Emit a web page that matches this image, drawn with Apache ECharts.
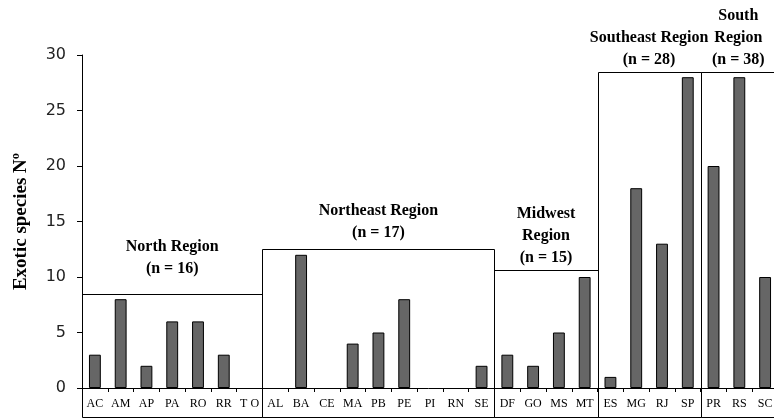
<!DOCTYPE html>
<html>
<head>
<meta charset="utf-8">
<script src="https://cdn.jsdelivr.net/npm/echarts@6/dist/echarts.min.js"></script>
<style>html,body{margin:0;padding:0;background:#fff;}#c{width:774px;height:419px;}</style>
</head>
<body>
<div id="c"></div>
<script>
// ---- data ----
const categories = ['AC','AM','AP','PA','RO','RR','T O','AL','BA','CE','MA','PB','PE','PI','RN','SE','DF','GO','MS','MT','ES','MG','RJ','SP','PR','RS','SC'];
const values = [3,8,2,6,6,3,0, 0,12,0,4,5,8,0,0,2, 3,2,5,10, 1,18,13,28, 20,28,10];
const yTicks = [0,5,10,15,20,25,30];
const regionLabels = ['North Region\n(n = 16)','Northeast Region\n(n = 17)','Midwest\nRegion\n(n = 15)','Southeast Region\n(n = 28)','South\nRegion\n(n = 38)'];
const regionStart = [0,7,16,20,24];
const regionEnd = [7,16,20,24,27];
const regionTop = [8.45,12.5,10.6,28.5,28.5];

// ---- style ----
const labelGaps = [25,16,12,12,12];
const regionData = regionStart.map((s,i)=>[s, regionEnd[i], regionTop[i], i]);
const barData = values.map(v => ({value:v, itemStyle: v===0 ? {borderWidth:0, color:'transparent'} : {}}));

const chart = echarts.init(document.getElementById('c'));
chart.setOption({
  animation:false,
  grid:{left:82, width:696, top:55, bottom:31, containLabel:false, outerBoundsMode:'none'},
  xAxis:[{
    type:'category', data:categories,
    axisLine:{lineStyle:{color:'#000',width:1}},
    axisTick:{show:true, length:4, lineStyle:{color:'#000'}},
    axisLabel:{interval:0, margin:10, color:'#000', fontFamily:'Liberation Serif', fontSize:12}
  },{
    type:'value', min:0, max:27, show:false
  }],
  yAxis:{
    type:'value', min:0, max:30, interval:5,
    name:'Exotic species Nº', nameLocation:'middle', nameGap:51, nameRotate:90,
    nameTextStyle:{fontFamily:'Liberation Serif', fontSize:19, fontWeight:'bold', color:'#000'},
    axisLine:{show:true, lineStyle:{color:'#000',width:1}},
    axisTick:{show:true, length:5, lineStyle:{color:'#000'}},
    axisLabel:{margin:16, color:'#222', fontFamily:'DejaVu Sans', fontSize:16,
      formatter:v=>yTicks.includes(v)?String(v):''},
    splitLine:{show:false}
  },
  series:[{
    type:'bar', data:barData, barWidth:'46%', xAxisIndex:0,
    itemStyle:{color:'#666', borderColor:'#000', borderWidth:1},
    z:3
  },{
    type:'custom', xAxisIndex:1, data:regionData, clip:false, z:2,
    renderItem:function(params, api){
      const s=api.value(0), e=api.value(1), t=api.value(2), i=api.value(3);
      const p0=api.coord([s,t]), p1=api.coord([e,0]);
      const bottom=api.getHeight()-2;
      const x0=Math.round(p0[0]), x1=Math.round(p1[0]), y0=Math.round(p0[1]);
      return {type:'group', children:[
        {type:'rect', shape:{x:x0+0.5, y:y0+0.5, width:x1-x0, height:Math.round(bottom-y0)},
          style:{fill:null, stroke:'#000', lineWidth:1}},
        {type:'text', style:{text:regionLabels[i], x:(p0[0]+Math.min(p1[0],776))/2, y:p0[1]-labelGaps[i]+11,
          align:'center', verticalAlign:'bottom', font:'bold 16px "Liberation Serif"', lineHeight:22, fill:'#000'}}
      ]};
    }
  }]
});
</script>
</body>
</html>
